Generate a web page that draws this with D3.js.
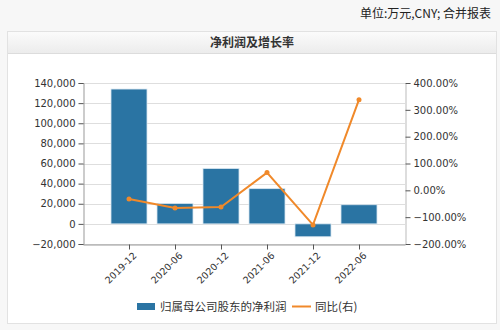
<!DOCTYPE html>
<html><head><meta charset="utf-8">
<script src="https://cdn.jsdelivr.net/npm/d3@7"></script>
<style>
html,body{margin:0;padding:0;background:#f7f7f7;}
svg{display:block;}
</style></head>
<body>
<svg id="c" width="500" height="330"></svg>
<script>
const categories = ["2019-12","2020-06","2020-12","2021-06","2021-12","2022-06"];
const netProfit = [134000, 20300, 55000, 35000, -12800, 19000];
const yoyPct = [-32, -66, -62, 66, -129, 338];
const leftTicks = [-20000,0,20000,40000,60000,80000,100000,120000,140000];
const rightTicks = [-200,-100,0,100,200,300,400];
const seriesNames = ["归属母公司股东的净利润","同比(右)"];
const titleText = "净利润及增长率";
const unitText = "单位:万元,CNY; 合并报表";

const svg = d3.select("#c");
const font = "'DejaVu Sans', Verdana, sans-serif";
const cjk = "'Noto Sans CJK SC', sans-serif";

// panel
const defs = svg.append("defs");
const g = defs.append("linearGradient").attr("id","hdr").attr("x1",0).attr("y1",0).attr("x2",0).attr("y2",1);
g.append("stop").attr("offset","0").attr("stop-color","#fbfbfb");
g.append("stop").attr("offset","1").attr("stop-color","#ececec");
svg.append("rect").attr("x",7.5).attr("y",31.5).attr("width",489).attr("height",292).attr("fill","#fff").attr("stroke","#e2e2e2");
svg.append("rect").attr("x",8).attr("y",32).attr("width",488).attr("height",21).attr("fill","url(#hdr)");
svg.append("line").attr("x1",8).attr("x2",496).attr("y1",53.5).attr("y2",53.5).attr("stroke","#dcdcdc");
svg.append("text").attr("x",252).attr("y",47).attr("text-anchor","middle").attr("font-family",cjk).attr("font-size",12).attr("font-weight","bold").attr("fill","#333").text(titleText);
svg.append("text").attr("x",491).attr("y",18).attr("text-anchor","end").attr("font-family",cjk).attr("font-size",12).attr("fill","#222").text(unitText);

const L = 83, R = 405, T = 83, B = 244;
const x = d3.scalePoint().domain(categories).range([L, R]).padding(1);
const yL = d3.scaleLinear().domain([-20000,140000]).range([B, T]);
const yR = d3.scaleLinear().domain([-200,400]).range([B, T]);

// grid
svg.append("g").selectAll("line").data(leftTicks).join("line")
  .attr("x1",L).attr("x2",R).attr("y1",d=>Math.round(yL(d))+0.5).attr("y2",d=>Math.round(yL(d))+0.5)
  .attr("stroke","#dedede");

// bars
const bw = 36;
svg.append("g").selectAll("rect").data(netProfit).join("rect")
  .attr("x",(d,i)=>x(categories[i])-bw/2)
  .attr("y",d=>yL(Math.max(0,d)))
  .attr("width",bw)
  .attr("height",d=>Math.abs(yL(d)-yL(0)))
  .attr("fill","#2a74a3").attr("stroke","#d8e6f0").attr("stroke-width",0.8);

// line
const line = d3.line().x((d,i)=>x(categories[i])).y(d=>yR(d));
svg.append("path").datum(yoyPct).attr("d",line).attr("fill","none").attr("stroke","#f0892a").attr("stroke-width",2);
svg.append("g").selectAll("circle").data(yoyPct).join("circle")
  .attr("cx",(d,i)=>x(categories[i])).attr("cy",d=>yR(d)).attr("r",2.5).attr("fill","#f0892a");

// axes
const fmtL = d3.format(",");
const axL = svg.append("g").attr("transform",`translate(${L+0.5},0)`)
  .call(d3.axisLeft(yL).tickValues(leftTicks).tickFormat(fmtL).tickSize(5).tickPadding(3));
const axR = svg.append("g").attr("transform",`translate(${R+0.5},0)`)
  .call(d3.axisRight(yR).tickValues(rightTicks).tickFormat(d=>d3.format(".2f")(d)+"%").tickSize(5).tickPadding(3));
const axB = svg.append("g").attr("transform",`translate(0,${B+0.5})`)
  .call(d3.axisBottom(x).tickSize(5).tickSizeOuter(0));
[axL,axR,axB].forEach(a=>{
  a.selectAll("path.domain").attr("stroke","#999");
  a.selectAll(".tick line").attr("stroke","#555");
  a.selectAll("text").attr("font-family",font).attr("font-size",10).attr("fill","#333");
});
axB.selectAll("text").attr("font-size",9.5).attr("text-anchor","end").attr("dx","-0.3em").attr("dy","0.6em").attr("transform","rotate(-45)");
axR.select("path.domain").attr("stroke","#bbb");

// legend
const lg = svg.append("g");
lg.append("rect").attr("x",137).attr("y",303).attr("width",18).attr("height",7).attr("fill","#2a74a3");
lg.append("text").attr("x",160).attr("y",310.5).attr("font-family",cjk).attr("font-size",11.5).attr("fill","#333").text(seriesNames[0]);
lg.append("line").attr("x1",292).attr("x2",311).attr("y1",306.5).attr("y2",306.5).attr("stroke","#f0892a").attr("stroke-width",2);
lg.append("text").attr("x",315).attr("y",310.5).attr("font-family",cjk).attr("font-size",11.5).attr("fill","#333").text(seriesNames[1]);
</script>
</body></html>
